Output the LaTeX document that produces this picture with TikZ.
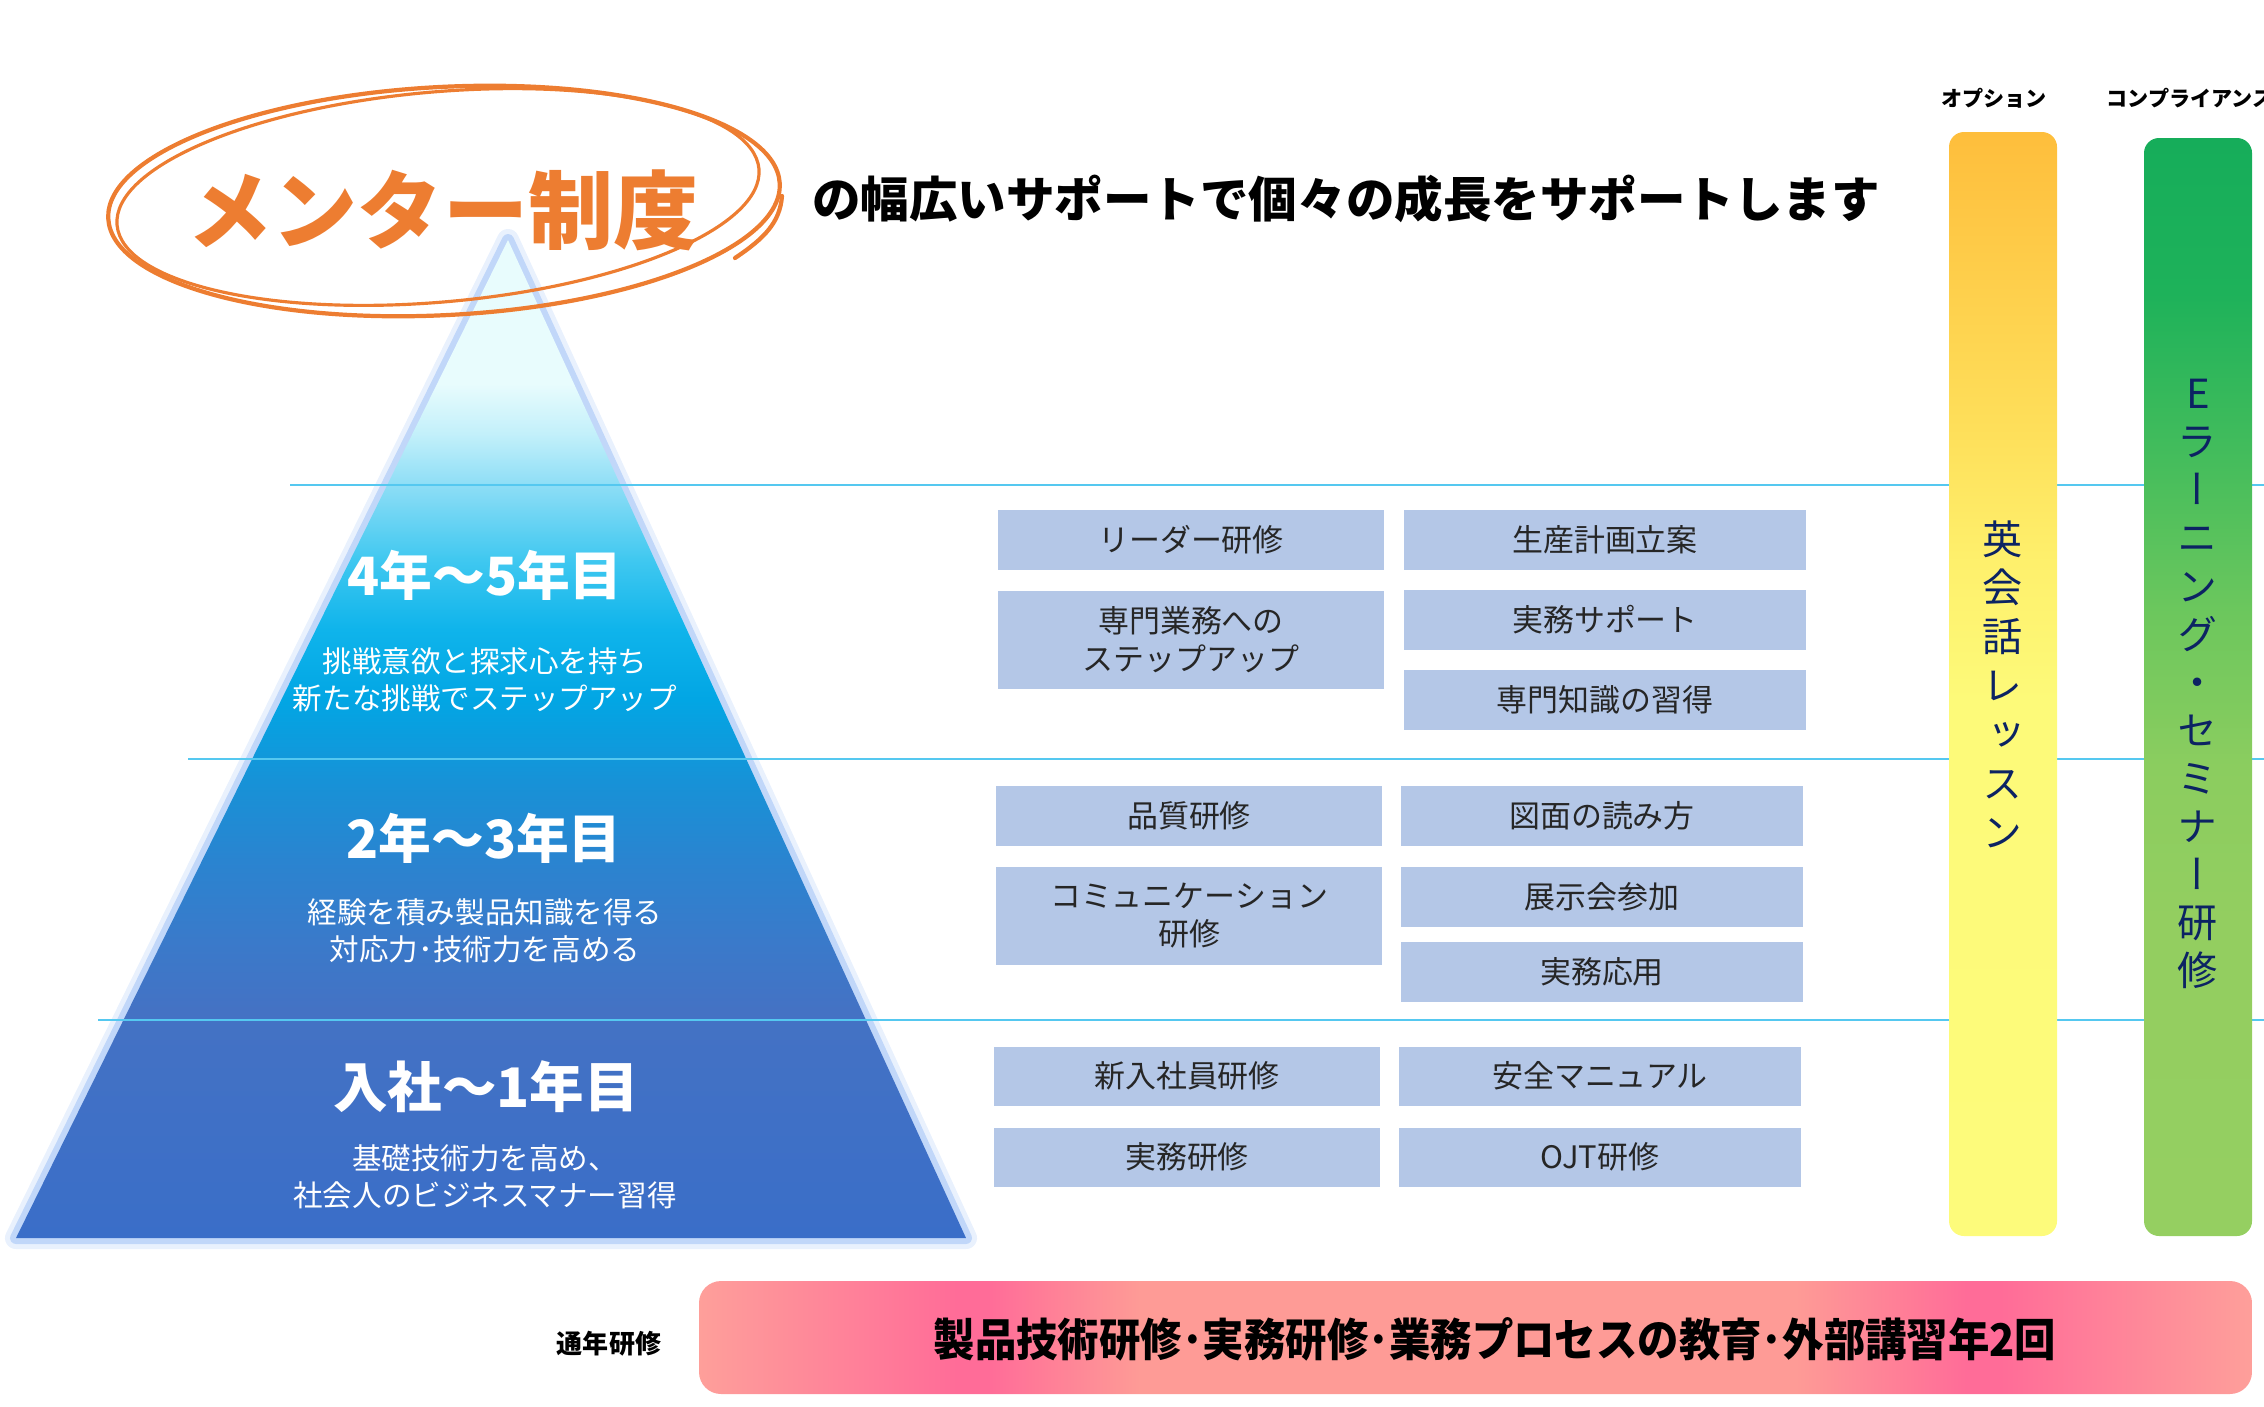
\documentclass[tikz,border=0pt]{standalone}
\usepackage{fontspec}
\setmainfont{Noto Sans CJK JP}
\newfontfamily\vertjp{Noto Sans CJK JP}[RawFeature=+vert]
\usepackage{tikz}

\definecolor{mentororange}{HTML}{ED7D31}
\definecolor{coursefill}{HTML}{B4C7E7}
\definecolor{coursetext}{HTML}{262626}
\definecolor{tierblue}{HTML}{55C8F0}
\definecolor{glowblue}{HTML}{A6C6F7}
\definecolor{barnavy}{HTML}{0C2363}
% pyramid stops, base to apex
\definecolor{pyr0}{HTML}{3A6EC8}
\definecolor{pyr1}{HTML}{4472C4}
\definecolor{pyr2}{HTML}{3A7ACA}
\definecolor{pyr3}{HTML}{2A84D0}
\definecolor{pyr4}{HTML}{1792D7}
\definecolor{pyr5}{HTML}{02A6E4}
\definecolor{pyr6}{HTML}{0FB4EB}
\definecolor{pyr7}{HTML}{40C8F0}
\definecolor{pyr8}{HTML}{8FDEF6}
\definecolor{pyr9}{HTML}{C3F0FA}
\definecolor{pyr10}{HTML}{E8FCFD}
% side bars and yearly bar
\definecolor{opt0}{HTML}{FDFB7B}
\definecolor{opt1}{HTML}{FDFA79}
\definecolor{opt2}{HTML}{FEF06C}
\definecolor{opt3}{HTML}{FEDF5A}
\definecolor{opt4}{HTML}{FEBE3C}
\definecolor{comp0}{HTML}{95CF61}
\definecolor{comp1}{HTML}{93CE60}
\definecolor{comp2}{HTML}{8BCD5F}
\definecolor{comp3}{HTML}{6CC75D}
\definecolor{comp4}{HTML}{45BD5C}
\definecolor{comp5}{HTML}{1EB25A}
\definecolor{comp6}{HTML}{16AD5A}
\definecolor{salmon}{HTML}{FE9F9A}
\definecolor{salmonmid}{HTML}{FE9B96}
\definecolor{pinkpeak}{HTML}{FF6C98}

\pgfdeclareverticalshading{pyramidshade}{100bp}{
  color(0bp)=(pyr0); color(25bp)=(pyr0); color(36.4bp)=(pyr1);
  color(39.9bp)=(pyr2); color(43.9bp)=(pyr3); color(47.9bp)=(pyr4);
  color(52bp)=(pyr5); color(55.5bp)=(pyr6); color(59bp)=(pyr7);
  color(62.8bp)=(pyr8); color(65.3bp)=(pyr9); color(67.8bp)=(pyr10);
  color(75bp)=(pyr10); color(100bp)=(pyr10)}
\pgfdeclareverticalshading{optionshade}{100bp}{
  color(0bp)=(opt0); color(25bp)=(opt0); color(49.3bp)=(opt1);
  color(55.5bp)=(opt2); color(61.6bp)=(opt3); color(75bp)=(opt4);
  color(100bp)=(opt4)}
\pgfdeclareverticalshading{complianceshade}{100bp}{
  color(0bp)=(comp0); color(25bp)=(comp0); color(39.4bp)=(comp1);
  color(46.4bp)=(comp2); color(53.4bp)=(comp3); color(60.3bp)=(comp4);
  color(67.9bp)=(comp5); color(75bp)=(comp6); color(100bp)=(comp6)}
\pgfdeclarehorizontalshading{yearlyshade}{100bp}{
  color(0bp)=(salmon); color(25bp)=(salmon); color(33.3bp)=(pinkpeak);
  color(34.3bp)=(pinkpeak); color(39.2bp)=(salmonmid); color(60.3bp)=(salmonmid);
  color(65.8bp)=(pinkpeak); color(66.9bp)=(pinkpeak); color(75bp)=(salmon);
  color(100bp)=(salmon)}

\tikzset{
  titlering/.style={draw=mentororange,line width=1.2pt,line cap=round},
  tier/.style={draw=tierblue,line width=0.7pt},
  yearhead/.style={text=white,inner sep=0pt,font=\fontsize{15}{18}\selectfont\bfseries},
  yearnote/.style={text=white,inner sep=0pt,align=center,
                   font=\fontsize{8.4}{10.5}\selectfont},
  course/.style={fill=coursefill,text=coursetext,inner sep=0pt,align=center,
                 minimum height=5.9mm,font=\fontsize{8.8}{10.8}\selectfont},
  courseL/.style={course,minimum width=3.86cm},
  courseR/.style={course,minimum width=4.01cm},
  twoline/.style={minimum height=9.8mm},
  sidebar/.style={rounded corners=0.15cm},
  sidetext/.style={text=barnavy,inner sep=0pt,align=center},
  tinylabel/.style={inner sep=0pt,font=\fontsize{6}{7}\selectfont\bfseries}
}

\begin{document}
\begin{tikzpicture}[x=0.01cm,y=-0.01cm]
  \useasboundingbox (0,0) rectangle (2264,1406);

  % Pyramid: soft blue glow, pale apex fading into deep blue.
  \coordinate (apex) at (508,240);
  \coordinate (baseL) at (16,1238);
  \coordinate (baseR) at (966,1238);
  \draw[glowblue,line width=2.2mm,line join=round,opacity=.25] (apex)--(baseL)--(baseR)--cycle;
  \draw[glowblue,line width=1.2mm,line join=round,opacity=.6] (apex)--(baseL)--(baseR)--cycle;
  \shade[shading=pyramidshade] (apex)--(baseL)--(baseR)--cycle;

  % Tier separators
  \foreach \y/\x in {485/290,759/188,1020/98}
    \draw[tier] (\x,\y) -- (2264,\y);

  \node[yearhead] (year45) at (485,575) {4年～5年目};
  \node[yearnote] (note45) at (485,680) {挑戦意欲と探求心を持ち\\新たな挑戦でステップアップ};
  \node[yearhead] (year23) at (484,838) {2年～3年目};
  \node[yearnote] (note23) at (485,931) {経験を積み製品知識を得る\\対応力･技術力を高める};
  \node[yearhead,font=\fontsize{15.5}{18}\selectfont\bfseries] (year01) at (486,1087) {入社～1年目};
  \node[yearnote] (note01) at (485,1177) {基礎技術力を高め、\\社会人のビジネスマナー習得};

  % Courses, 4-5th year
  \node[courseL] (leader) at (1191,540) {リーダー研修};
  \node[courseR] (planning) at (1605,540) {生産計画立案};
  \node[courseL,twoline] (expert) at (1191,640) {専門業務への\\ステップアップ};
  \node[courseR] (support) at (1605,620) {実務サポート};
  \node[courseR] (knowledge) at (1605,700) {専門知識の習得};
  % Courses, 2-3rd year
  \node[courseL] (quality) at (1189,816) {品質研修};
  \node[courseR] (drawing) at (1602,816) {図面の読み方};
  \node[courseL,twoline] (communication) at (1189,916) {コミュニケーション\\研修};
  \node[courseR] (exhibition) at (1602,897) {展示会参加};
  \node[courseR] (applied) at (1602,972) {実務応用};
  % Courses, first year
  \node[courseL] (newhire) at (1187,1076) {新入社員研修};
  \node[courseR] (safety) at (1600,1076) {安全マニュアル};
  \node[courseL] (practice) at (1187,1157) {実務研修};
  \node[courseR] (ojt) at (1600,1157) {OJT研修};

  % Side bars: option and compliance
  \shade[sidebar,shading=optionshade] (1949,132) rectangle (2057,1236);
  \shade[sidebar,shading=complianceshade] (2144,138) rectangle (2252,1236);
  \node[tinylabel] (optlabel) at (1994,98) {オプション};
  \node[tinylabel,anchor=west] (complabel) at (2106,98) {コンプライアンス};
  \node[sidetext,font=\vertjp\fontsize{11.4}{13.9}\selectfont] (english) at (2003,684)
    {英\\会\\話\\レ\\ッ\\ス\\ン};
  \node[sidetext,font=\vertjp\fontsize{11.4}{13.66}\selectfont] (elearning) at (2198,684)
    {E\\ラ\\ー\\ニ\\ン\\グ\\・\\セ\\ミ\\ナ\\ー\\研\\修};

  % Year-round training bar
  \shade[shading=yearlyshade,rounded corners=0.22cm] (699,1281) rectangle (2252,1394);
  \node[inner sep=0pt,font=\fontsize{7.4}{9}\selectfont\bfseries] (yearround) at (609,1344) {通年研修};
  \node[inner sep=0pt,font=\fontsize{12.8}{15}\selectfont\bfseries] (yearlytext) at (1495,1339)
    {\scalebox{0.92}[1]{製品技術研修･実務研修･業務プロセスの教育･外部講習年2回}};

  % Title with hand-drawn ring
  \draw[titlering,rotate around={3:(444,201)}] (444,201) ellipse [x radius=3.36cm,y radius=1.14cm];
  \draw[titlering,line width=0.9pt,rotate around={5:(438,197)}] (438,197) ellipse [x radius=3.22cm,y radius=1.05cm];
  \draw[titlering] (735,258) .. controls (765,238) and (780,222) .. (782,196);
  \node[inner sep=0pt,text=mentororange,font=\fontsize{24.2}{28}\selectfont\bfseries] (title) at (443,210) {メンター制度};
  \node[inner sep=0pt,font=\fontsize{13.8}{16}\selectfont\bfseries] (subtitle) at (1346,199)
    {の幅広いサポートで個々の成長をサポートします};
\end{tikzpicture}
\end{document}
